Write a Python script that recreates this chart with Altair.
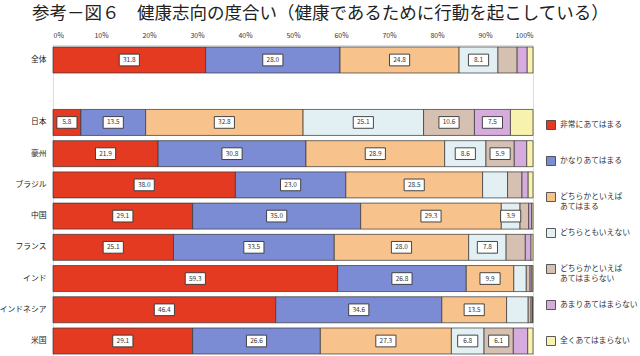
import altair as alt
import pandas as pd

countries = ["全体", "日本", "豪州", "ブラジル", "中国", "フランス", "インド", "インドネシア", "米国"]
rows = ["全体", " ", "日本", "豪州", "ブラジル", "中国", "フランス", "インド", "インドネシア", "米国"]

categories = ["非常にあてはまる", "かなりあてはまる", "どちらかといえばあてはまる", "どちらともいえない",
              "どちらかといえばあてはまらない", "あまりあてはまらない", "全くあてはまらない"]
colors = ["#E53A22", "#7C8CD4", "#F8C28C", "#E2F0F3", "#D6C0B1", "#D6ABDD", "#F7F3AE"]

very = [31.8, 5.8, 21.9, 38.0, 29.1, 25.1, 59.3, 46.4, 29.1]
fairly = [28.0, 13.5, 30.8, 23.0, 35.0, 33.5, 26.8, 34.6, 26.6]
somewhat = [24.8, 32.8, 28.9, 28.5, 29.3, 28.0, 9.9, 13.5, 27.3]
neutral = [8.1, 25.1, 8.6, 5.2, 3.9, 7.8, 2.6, 4.5, 6.8]
somewhat_not = [4.0, 10.6, 5.9, 3.0, 1.8, 4.0, 0.8, 0.6, 6.1]
not_much = [2.1, 7.5, 2.6, 1.3, 0.6, 1.2, 0.4, 0.3, 3.0]
not_at_all = [1.2, 4.7, 1.3, 1.0, 0.3, 0.4, 0.2, 0.1, 1.1]

series = [very, fairly, somewhat, neutral, somewhat_not, not_much, not_at_all]
label_min = 5.5
extra_labels = [("中国", "どちらともいえない")]

tick_values = [0, 10, 20, 30, 40, 50, 60, 70, 80, 90, 100]

records = []
for ci, (cat, vals) in enumerate(zip(categories, series)):
    for country, v in zip(countries, vals):
        show = v >= label_min or (country, cat) in extra_labels
        records.append({"country": country, "category": cat, "order": ci,
                        "value": v, "show": show})
df = pd.DataFrame(records)

FONT = "Noto Sans CJK JP"

base = alt.Chart(df).transform_stack(
    stack="value", groupby=["country"], sort=[alt.SortField("order")], as_=["x0", "x1"]
)

y_scale = alt.Scale(domain=rows, paddingInner=0.167, paddingOuter=0.064)
y_enc = alt.Y("country:N", scale=y_scale,
              axis=alt.Axis(title=None, domain=False, ticks=False, labelPadding=7,
                            labelFontSize=7.8, labelColor="#222", labelFont=FONT))

legend_label = ("indexof(datum.label,'どちらかといえば')==0 ? "
                "['どちらかといえば', substring(datum.label, 8)] : datum.label")

bars = base.mark_bar(stroke="#333", strokeWidth=0.7).encode(
    x=alt.X("x0:Q", scale=alt.Scale(domain=[0, 100], nice=False),
            axis=alt.Axis(orient="top", values=tick_values, labelExpr="datum.value + '%'",
                          title=None, domain=False, ticks=False, grid=False,
                          labelFontSize=7, labelColor="#333", labelPadding=7, labelFont=FONT)),
    x2="x1:Q",
    y=y_enc,
    color=alt.Color("category:N", scale=alt.Scale(domain=categories, range=colors),
                    legend=alt.Legend(title=None, orient="none", legendX=493, legendY=75,
                                      symbolType="square", symbolSize=81,
                                      symbolStrokeColor="#333", symbolStrokeWidth=0.8,
                                      labelFontSize=7.8, labelColor="#333", labelFont=FONT,
                                      gridAlign="all", rowPadding=15, labelOffset=4,
                                      labelExpr=legend_label)),
    order=alt.Order("order:Q"),
)

lab_base = base.transform_filter("datum.show").transform_calculate(mid="(datum.x0 + datum.x1) / 2")

boxes = lab_base.mark_point(
    shape="M-1.55,-0.9L1.55,-0.9L1.55,0.9L-1.55,0.9Z", size=169, filled=True,
    fill="white", stroke="#333", strokeWidth=0.9, opacity=1
).encode(x="mid:Q", y=alt.Y("country:N", scale=y_scale))

texts = lab_base.mark_text(fontSize=6.5, color="#333", font=FONT).encode(
    x="mid:Q", y=alt.Y("country:N", scale=y_scale),
    text=alt.Text("value:Q", format=".1f"),
)

chart = alt.layer(bars, boxes, texts).properties(
    width=480, height=311,
    title=alt.Title("参考－図６　健康志向の度合い（健康であるために行動を起こしている）",
                    anchor="start", frame="group", dx=-21, fontSize=17.5, fontWeight="normal",
                    font=FONT, color="#222", offset=9),
    autosize=alt.AutoSizeParams(type="none"),
    padding={"left": 53, "top": 45, "right": 107, "bottom": 0},
).configure_view(stroke=None).configure(background="white")

chart.save("out.html", embed_options={"renderer": "svg", "actions": False})
